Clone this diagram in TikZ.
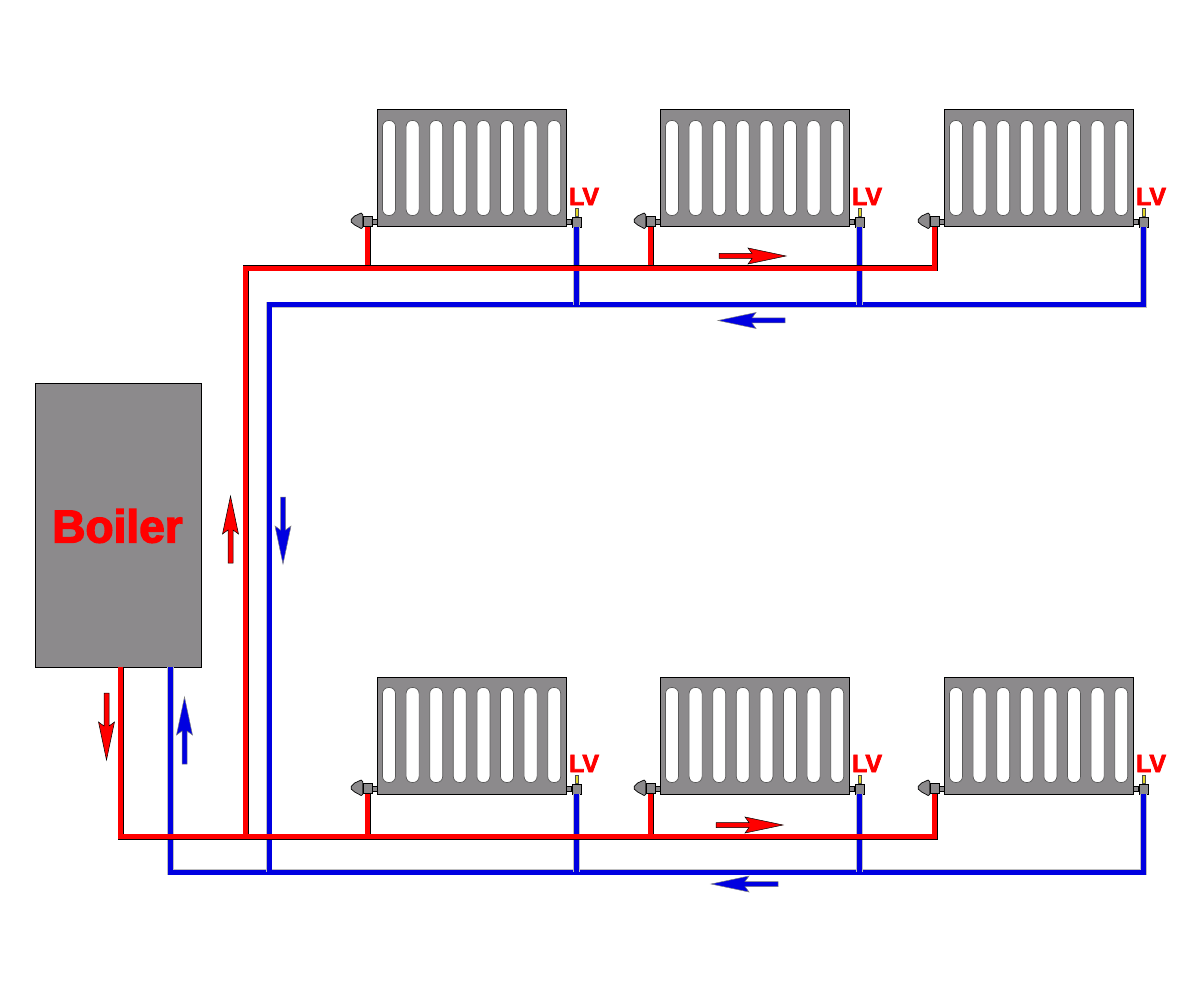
\documentclass[tikz,border=0pt]{standalone}
\usepackage{fontspec}
\usetikzlibrary{calc}
\newfontface\labelfont{Liberation Sans Bold}[FakeBold=3]
\definecolor{metal}{RGB}{140,138,140}
\definecolor{pipeblue}{RGB}{0,0,225}
\definecolor{pin}{RGB}{225,215,40}
\tikzset{
  radiator/.style={draw=black,line width=0.8pt,fill=metal,anchor=north west,minimum width=189pt,minimum height=117pt},
  slot/.style={draw=black!65,line width=0.7pt,fill=white,rounded corners=6pt},
  valve/.style={draw=black,line width=0.7pt,fill=metal,minimum width=9pt,minimum height=10pt},
  redpipe/.style={draw=black,line width=0.8pt,double=red,double distance=4.4pt},
  bluepipe/.style={draw=black!25,line width=0.6pt,double=pipeblue,double distance=5pt},
  redflow/.style={draw=black,line width=0.5pt,fill=red},
  blueflow/.style={draw=black!50,line width=0.5pt,fill=pipeblue},
  lvtext/.style={text=red,font=\labelfont\fontsize{25}{25}\selectfont}
}
% name, left edge, top edge
\newcommand{\radiatorunit}[3]{
\node[radiator] (#1) at (#2,#3) {};
\foreach \k in {0,...,7}
  \draw[slot] ($(#1.north west)+(5.5+23.6*\k,11)$) rectangle ++(13,95);
\node[valve] (#1s) at ($(#1.north west)+(-9.5,112)$) {};
\node[valve] (#1r) at ($(#1.north west)+(199.5,112.5)$) {};
\draw[valve] (#1s.east |- 0,{#3+109.5}) rectangle ($(#1.north west)+(0,114.5)$);
\draw[valve] ($(#1.north east)+(0,110)$) rectangle ($(#1r.west)+(0,2.5)$);
\draw[valve,shift={(#1s.west)}] (0,-7) -- (-1.5,-8.5) -- (-8,-5.5) -- (-11.5,-2) -- (-11.5,0.5) -- (-8,3.5) -- (-1.5,7) -- (0,6) -- cycle;
\draw[line width=0.5pt,draw=black!70,fill=pin] ($(#1r.north)+(-1.7,0)$) rectangle ++(3.4,-8);
\node[lvtext] (#1t) at ($(#1.north west)+(207,87)$) {LV};
}

\begin{document}
\begin{tikzpicture}[x=1pt,y=-1pt,inner sep=0pt]
\useasboundingbox (0,0) rectangle (1200,1000);

\node[draw=black,line width=0.7pt,fill=metal,minimum width=165.5pt,minimum height=284pt] (boiler) at (118.2,525) {};
\node[text=red,font=\labelfont\fontsize{46}{46}\selectfont] (boilertext) at (117.5,526) {Boiler};

\foreach \n/\x in {a/377,b/660,c/944} {
  \radiatorunit{\n1}{\x}{109.5}
  \radiatorunit{\n2}{\x}{676.5}
}

% junctions
\coordinate (bred) at (120.5,667);
\coordinate (bblue) at (170.5,667);
\coordinate (redlow) at (120.5,836.5);
\coordinate (bluelow) at (170.5,872);
\coordinate (redup) at (245.5,836.5);
\coordinate (redtop) at (245.5,268.5);
\coordinate (blueup) at (269,872);
\coordinate (bluetop) at (269,305);

% return side
\draw[bluepipe] (blueup) -- (bluetop) -- (bluetop -| c1r.south) -- (c1r.south);
\draw[bluepipe] (bblue) -- (bluelow) -- (bluelow -| c2r.south) -- (c2r.south);
\foreach \n in {a,b} {
  \draw[bluepipe] (\n1r.south) -- (\n1r.south |- bluetop);
  \draw[bluepipe] (\n2r.south) -- (\n2r.south |- bluelow);
}
\draw[bluepipe] (bluetop) -- (blueup);

% flow side
\foreach \n in {a,b} {
  \draw[redpipe] (\n1s.south) -- (\n1s.south |- redtop);
  \draw[redpipe] (\n2s.south) -- (\n2s.south |- redlow);
}
\draw[redpipe] (redup) -- (redtop) -- (redtop -| c1s.south) -- (c1s.south);
\draw[redpipe] (bred) -- (redlow) -- (redlow -| c2s.south) -- (c2s.south);

% tail x, tail y, direction
\foreach \tx/\ty/\ang in {719/256/0,716/825/0,106.5/693/-90,230.5/563/90}
  \draw[redflow,shift={(\tx,\ty)},rotate=\ang] (0,-2.5) -- (33,-2.5) -- (29,-8) -- (67,0) -- (29,8) -- (33,2.5) -- (0,2.5) -- cycle;
\foreach \tx/\ty/\ang in {785/320.5/180,778/884/180,184.5/764/90,283/497/-90}
  \draw[blueflow,shift={(\tx,\ty)},rotate=\ang] (0,-2.5) -- (33,-2.5) -- (29,-8) -- (67,0) -- (29,8) -- (33,2.5) -- (0,2.5) -- cycle;
\end{tikzpicture}
\end{document}
